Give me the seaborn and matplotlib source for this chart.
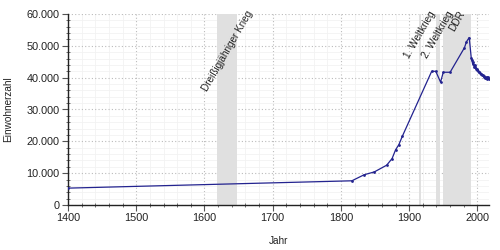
import matplotlib
matplotlib.use("Agg")
import matplotlib.pyplot as plt
import matplotlib.ticker as mticker
import seaborn as sns
import pandas as pd

years = [1400, 1816, 1834, 1849, 1867, 1875, 1880, 1885, 1890, 1933, 1939, 1946, 1950,
         1960, 1981, 1984, 1988, 1991, 1992, 1993, 1994, 1995, 1996, 1997, 1998, 1999,
         2000, 2001, 2002, 2003, 2004, 2005, 2006, 2007, 2008, 2009, 2010, 2011, 2012,
         2013, 2014, 2015, 2016, 2017]
population = [5300, 7600, 9500, 10400, 12500, 14600, 17300, 19000, 21600, 42000, 42000,
              38600, 41700, 41700, 49400, 51300, 52600, 46200, 45400, 44300, 44800, 43500,
              43200, 43900, 42800, 42500, 42600, 42200, 41900, 41800, 41500, 41300, 41000,
              40900, 40700, 40400, 40200, 39800, 40100, 39900, 39600, 40300, 39800, 39500]

periods = ["Dreißigjähriger Krieg", "1. Weltkrieg", "2. Weltkrieg", "DDR"]
period_start = [1618, 1914, 1939, 1949]
period_end = [1648, 1918, 1945, 1990]

sns.set_theme(style="white")
plt.rcParams['font.family'] = ['Liberation Sans', 'DejaVu Sans']

FS = 7.2
df = pd.DataFrame({"Jahr": years, "Einwohnerzahl": population})

fig = plt.figure(figsize=(5, 2.5), dpi=100)
ax = fig.add_axes([0.136, 0.18, 0.842, 0.764])

for name, s, e in zip(periods, period_start, period_end):
    ax.axvspan(s, e, color="#e0e0e0", zorder=1, lw=0)
    ax.text((s + e) / 2, 1.025, name, transform=ax.get_xaxis_transform(),
            rotation=60, ha="center", va="top", fontsize=FS, color="#222222",
            zorder=5)

sns.lineplot(data=df, x="Jahr", y="Einwohnerzahl", ax=ax, color="#23238f",
             linewidth=0.9, marker="o", markersize=2, markeredgewidth=0, zorder=4)

ax.set_xlim(1400, 2017)
ax.set_ylim(0, 60000)
ax.xaxis.set_major_locator(mticker.MultipleLocator(100))
ax.xaxis.set_minor_locator(mticker.MultipleLocator(20))
ax.yaxis.set_major_locator(mticker.MultipleLocator(10000))
ax.yaxis.set_minor_locator(mticker.MultipleLocator(2000))
ax.yaxis.set_major_formatter(mticker.FuncFormatter(lambda v, p: f"{int(v):,}".replace(",", ".")))

ax.grid(which="major", color="#bbbbbb", linestyle=(0, (1, 2)), linewidth=0.8, zorder=2)
ax.grid(which="minor", color="#f2f2f2", linestyle="-", linewidth=0.6, zorder=0)
ax.set_axisbelow(True)

for side in ["top", "right"]:
    ax.spines[side].set_visible(False)
for side in ["left", "bottom"]:
    ax.spines[side].set_color("#222222")
    ax.spines[side].set_linewidth(1.0)

ax.tick_params(which="major", direction="out", length=4, width=0.8, color="#555555",
               labelsize=FS + 0.6, labelcolor="#222222", left=True, bottom=True, pad=2)
ax.tick_params(which="minor", direction="inout", length=3, width=0.6, color="#555555",
               left=True, bottom=True)

ax.set_xlabel("Jahr", fontsize=FS, color="#222222", labelpad=9)
ax.set_ylabel("Einwohnerzahl", fontsize=FS, color="#222222", labelpad=10)

fig.savefig("out.png", dpi=100)
